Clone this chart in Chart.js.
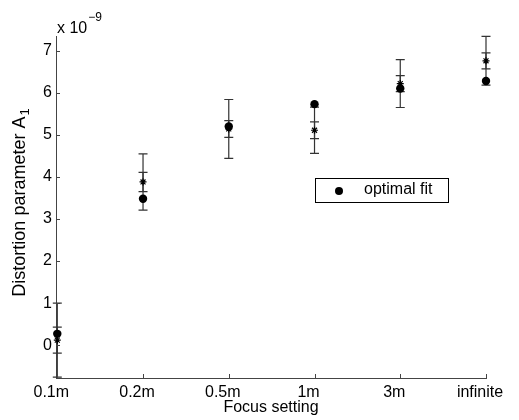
<!DOCTYPE html>
<html>
<head>
<meta charset="utf-8">
<script src="https://cdn.jsdelivr.net/npm/chart.js@4.4.1/dist/chart.umd.min.js"></script>
<style>
  html, body { margin: 0; padding: 0; background: #fff; }
  #wrap { width: 519px; height: 420px; }
</style>
</head>
<body>
<div id="wrap"><canvas id="chart"></canvas></div>
<script>
var categories = ["0.1m", "0.2m", "0.5m", "1m", "3m", "infinite"];
var xPositions = [1, 2, 3, 4, 5, 6];
var optimalFit = [0.27, 3.48, 5.2, 5.73, 6.1, 6.28];   // x 1e-9
var estimates = [0.12, 3.88, 5.14, 5.11, 6.22, 6.76];  // x 1e-9
var outerErr = [0.88, 0.67, 0.7, 0.55, 0.57, 0.58];
var innerErr = [0.31, 0.23, 0.2, 0.2, 0.19, 0.19];
var yTicks = [0, 1, 2, 3, 4, 5, 6, 7];

var FONT = "'Liberation Sans', Arial, Helvetica, sans-serif";
Chart.defaults.font.family = FONT;
Chart.defaults.color = "#000";

function pts(values) {
    return values.map(function (v, i) {
        return { x: xPositions[i], y: v };
    });
}

// error bars, drawn under the markers
var errorBars = {
    id: "errorBars",
    beforeDatasetsDraw: function (chart) {
        var ctx = chart.ctx;
        var xs = chart.scales.x, ys = chart.scales.y;
        var area = chart.chartArea;
        ctx.save();
        ctx.beginPath();
        ctx.rect(area.left - 6, area.top - 2, area.right - area.left + 12, area.bottom - area.top + 2);
        ctx.clip();
        ctx.strokeStyle = "#333";
        ctx.lineWidth = 1.2;
        for (var i = 0; i < estimates.length; i++) {
            var px = xs.getPixelForValue(xPositions[i]);
            [outerErr[i], innerErr[i]].forEach(function (e) {
                var top = ys.getPixelForValue(estimates[i] + e);
                var bot = ys.getPixelForValue(estimates[i] - e);
                ctx.beginPath();
                ctx.moveTo(px, top); ctx.lineTo(px, bot);
                ctx.moveTo(px - 4.5, top); ctx.lineTo(px + 4.5, top);
                ctx.moveTo(px - 4.5, bot); ctx.lineTo(px + 4.5, bot);
                ctx.stroke();
            });
        }
        ctx.restore();
    }
};

// inward ticks, y label with subscript, exponent label and the boxed legend
var matlabAxes = {
    id: "matlabAxes",
    afterDraw: function (chart) {
        var ctx = chart.ctx;
        var xs = chart.scales.x, ys = chart.scales.y;
        var area = chart.chartArea;
        ctx.save();
        ctx.strokeStyle = "#444";
        ctx.lineWidth = 1;
        ctx.beginPath();
        yTicks.forEach(function (v) {
            var py = Math.round(ys.getPixelForValue(v)) + 0.5;
            ctx.moveTo(area.left, py); ctx.lineTo(area.left + 4, py);
        });
        xPositions.forEach(function (v) {
            var px = Math.round(xs.getPixelForValue(v)) + 0.5;
            ctx.moveTo(px, area.bottom); ctx.lineTo(px, area.bottom - 4);
        });
        ctx.stroke();

        ctx.fillStyle = "#000";
        ctx.textBaseline = "alphabetic";
        ctx.textAlign = "left";

        // y axis title: "Distortion parameter A" with subscript 1
        var main = "Distortion parameter A";
        ctx.font = "18px " + FONT;
        var mw = ctx.measureText(main).width;
        ctx.font = "13px " + FONT;
        var sw = ctx.measureText("1").width;
        ctx.save();
        ctx.translate(25, (area.top + area.bottom) / 2 - 4);
        ctx.rotate(-Math.PI / 2);
        var sx = -(mw + sw) / 2;
        ctx.font = "18px " + FONT;
        ctx.fillText(main, sx, 0);
        ctx.font = "13px " + FONT;
        ctx.fillText("1", sx + mw + 1, 4);
        ctx.restore();

        ctx.font = "16px " + FONT;
        ctx.fillText("x 10", area.left + 1, area.top - 3);
        var w = ctx.measureText("x 10").width;
        ctx.font = "12px " + FONT;
        ctx.fillText("\u22129", area.left + 2 + w, area.top - 15);

        // legend
        var lx = 315, ly = 178, lw = 133, lh = 24;
        ctx.fillStyle = "#fff";
        ctx.fillRect(lx, ly, lw, lh);
        ctx.strokeStyle = "#000";
        ctx.strokeRect(lx + 0.5, ly + 0.5, lw, lh);
        ctx.fillStyle = "#000";
        ctx.beginPath();
        ctx.arc(lx + 24, ly + 13, 4, 0, Math.PI * 2);
        ctx.fill();
        ctx.font = "16px " + FONT;
        ctx.textBaseline = "middle";
        ctx.fillText(chart.data.datasets[0].label, lx + 49, ly + 12);
        ctx.restore();
    }
};

var ctx = document.getElementById("chart").getContext("2d");

var config = {
    type: "scatter",
    data: {
        datasets: [
            {
                label: "optimal fit",
                data: pts(optimalFit),
                pointStyle: "circle",
                pointRadius: 4.2,
                backgroundColor: "#000",
                borderColor: "#000",
                borderWidth: 0,
                clip: false,
                order: 0,
            },
            {
                label: "estimate",
                data: pts(estimates),
                pointStyle: "star",
                pointRadius: 3.5,
                borderColor: "#000",
                borderWidth: 1.2,
                clip: false,
                order: 1,
            },
        ],
    },
    options: {
        responsive: true,
        maintainAspectRatio: false,
        animation: false,
        layout: {
            padding: { top: 36, right: 33, left: 0, bottom: 0 },
        },
        plugins: {
            legend: { display: false },
            tooltip: { enabled: false },
        },
        scales: {
            x: {
                type: "linear",
                min: 0.985,
                max: 6,
                grid: { display: false, drawTicks: false },
                border: { display: true, color: "#444", width: 1 },
                afterBuildTicks: function (scale) {
                    scale.ticks = xPositions.map(function (v) { return { value: v }; });
                },
                afterFit: function (scale) { scale.height = 42; },
                ticks: {
                    font: { size: 16 },
                    padding: 5,
                    labelOffset: -6,
                    maxRotation: 0,
                    autoSkip: false,
                    callback: function (value, index) { return categories[index]; },
                },
                title: {
                    display: true,
                    text: "Focus setting",
                    font: { size: 16 },
                    padding: { top: 0, bottom: 3 },
                },
            },
            y: {
                min: -0.78,
                max: 7.35,
                grid: { display: false, drawTicks: false },
                border: { display: true, color: "#444", width: 1 },
                afterBuildTicks: function (scale) {
                    scale.ticks = yTicks.map(function (v) { return { value: v }; });
                },
                afterFit: function (scale) { scale.width = 56; },
                ticks: {
                    font: { size: 16 },
                    padding: 4,
                    callback: function (value) { return String(value); },
                },
            },
        },
    },
    plugins: [errorBars, matlabAxes],
};

var chart = new Chart(ctx, config);
</script>
</body>
</html>
